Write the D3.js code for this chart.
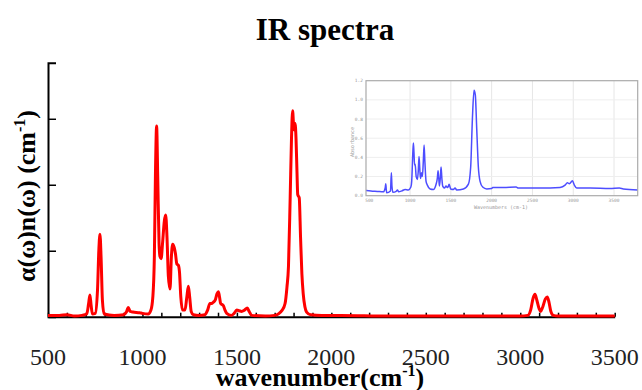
<!DOCTYPE html>
<html>
<head>
<meta charset="utf-8">
<script src="https://cdn.jsdelivr.net/npm/d3@7"></script>
<style>
  body { margin: 0; background: #fff; }
  svg { display: block; }
</style>
</head>
<body>
<div id="chart"></div>
<script>
// main spectrum (red), wavenumber in cm-1 and intensity in arbitrary units
const mainWn = [500, 560, 600, 640, 680, 705, 715, 722, 728, 735, 750, 762, 769, 775, 781, 788, 797, 850, 900, 915, 925, 935, 950, 985,
  1000, 1030, 1045, 1055, 1063, 1069, 1075, 1081, 1088, 1093, 1099, 1106, 1116, 1123, 1130, 1137, 1146, 1153, 1160, 1168, 1175, 1182,
  1190, 1196, 1203, 1212, 1225, 1235, 1243, 1250, 1258, 1270, 1300, 1330, 1345, 1357, 1368, 1375, 1385, 1395, 1402, 1408, 1414, 1428,
  1437, 1446, 1470, 1485, 1499, 1512, 1525, 1540, 1555, 1565, 1578, 1650, 1700, 1740, 1755, 1765, 1773, 1782, 1789, 1795, 1800, 1803,
  1808, 1813, 1818, 1822, 1830, 1837, 1844, 1851, 1860, 1869, 1890, 1950, 2050, 2300, 2600, 2900, 3000, 3040, 3055, 3068, 3078, 3088,
  3100, 3108, 3118, 3133, 3143, 3152, 3162, 3175, 3200, 3500];
const mainVal = [0.02, 0.02, 0.03, 0.01, 0.02, 0.04, 0.2, 0.33, 0.18, 0.04, 0.05, 0.4, 1.0, 1.25, 0.9, 0.25, 0.04, 0.02, 0.03, 0.07, 0.14, 0.08, 0.07, 0.06,
  0.05, 0.04, 0.1, 0.3, 0.9, 2.2, 2.89, 2.1, 1.1, 0.91, 0.88, 1.1, 1.45, 1.54, 1.2, 0.62, 0.42, 0.9, 1.1, 1.05, 0.95, 0.8,
  0.78, 0.68, 0.3, 0.1, 0.1, 0.3, 0.46, 0.3, 0.08, 0.03, 0.02, 0.03, 0.1, 0.2, 0.2, 0.22, 0.25, 0.35, 0.38, 0.3, 0.2, 0.17,
  0.1, 0.05, 0.02, 0.05, 0.1, 0.09, 0.08, 0.1, 0.13, 0.08, 0.02, 0.01, 0.02, 0.1, 0.2, 0.45, 0.76, 1.8, 2.7, 3.12, 2.9, 2.83,
  2.93, 2.7, 2.2, 1.85, 1.8, 1.2, 0.65, 0.35, 0.15, 0.07, 0.03, 0.02, 0.02, 0.01, 0.01, 0.01, 0.01, 0.02, 0.1, 0.28, 0.34, 0.25,
  0.12, 0.08, 0.14, 0.27, 0.3, 0.22, 0.08, 0.02, 0.01, 0.01];

// inset (measured absorbance, blue)
const insetWn = [460, 520, 600, 673, 695, 702, 708, 713, 760, 771, 778, 790, 830, 845, 860, 900, 939, 980, 1010, 1020, 1034, 1041, 1048,
  1055, 1061, 1066, 1075, 1090, 1100, 1110, 1118, 1127, 1133, 1139, 1145, 1151, 1162, 1172, 1182, 1196, 1212, 1245, 1286, 1319, 1334,
  1343, 1352, 1360, 1372, 1380, 1390, 1400, 1421, 1441, 1457, 1470, 1478, 1490, 1498, 1531, 1551, 1572, 1654, 1715, 1743, 1764, 1784,
  1800, 1817, 1837, 1858, 1890, 1940, 2000, 2013, 2144, 2300, 2327, 2510, 2716, 2838, 2900, 2928, 2953, 2990, 3014, 3042, 3206, 3451,
  3565, 3614, 3790];
const insetVal = [0.055, 0.05, 0.045, 0.04, 0.08, 0.125, 0.07, 0.03, 0.05, 0.24, 0.1, 0.035, 0.045, 0.06, 0.04, 0.05, 0.065, 0.06, 0.09, 0.15, 0.45, 0.55, 0.45,
  0.32, 0.33, 0.3, 0.2, 0.17, 0.25, 0.41, 0.3, 0.18, 0.2, 0.24, 0.22, 0.2, 0.35, 0.53, 0.35, 0.15, 0.11, 0.07, 0.065, 0.12, 0.18,
  0.26, 0.18, 0.1, 0.2, 0.3, 0.18, 0.1, 0.08, 0.1, 0.085, 0.1, 0.12, 0.09, 0.07, 0.065, 0.08, 0.06, 0.07, 0.12, 0.3, 0.8, 1.1,
  1.05, 0.7, 0.3, 0.15, 0.09, 0.07, 0.075, 0.085, 0.085, 0.09, 0.08, 0.08, 0.08, 0.085, 0.11, 0.135, 0.125, 0.155, 0.11, 0.08, 0.08, 0.075,
  0.08, 0.07, 0.06];

const xTickLabels = [500, 1000, 1500, 2000, 2500, 3000, 3500];
const yTicks = [0, 1, 2, 3];
const insetXTicks = [500, 1000, 1500, 2000, 2500, 3000, 3500];
const insetYTicks = [0, 0.2, 0.4, 0.6, 0.8, 1.0, 1.2];

const width = 642;
const height = 390;
const serif = "'Liberation Serif', 'Times New Roman', serif";

const svg = d3.select("#chart").append("svg")
  .attr("width", width)
  .attr("height", height);

const x = d3.scaleLinear().domain([500, 3500]).range([48, 614.7]);
const y = d3.scaleLinear().domain([0, 3.85]).range([316.7, 62.7]);

// title
svg.append("text")
  .attr("x", 325).attr("y", 40)
  .attr("text-anchor", "middle")
  .style("font-family", serif).style("font-weight", "bold").style("font-size", "31px")
  .text("IR spectra");

// x axis: small ticks pointing up every 100 cm-1
const xAxis = svg.append("g")
  .attr("transform", `translate(0,${y(0)})`)
  .call(d3.axisTop(x).tickValues(d3.range(500, 3501, 100)).tickSize(4).tickSizeOuter(0).tickFormat(""));
xAxis.select(".domain").attr("stroke", "#000").attr("stroke-width", 2);
xAxis.selectAll(".tick line").attr("stroke", "#000").attr("stroke-width", 1.5);

svg.append("g").selectAll("text")
  .data(xTickLabels)
  .enter().append("text")
  .attr("x", (d) => x(d))
  .attr("y", 365)
  .attr("text-anchor", "middle")
  .style("font-family", serif).style("font-size", "24px").attr("fill", "#222")
  .text((d) => d);

// y axis, no labels, ticks point inward
const yAxis = svg.append("g")
  .attr("transform", `translate(${x(500)},0)`)
  .call(d3.axisRight(y).tickValues(yTicks).tickSize(8).tickSizeOuter(8).tickFormat(""));
yAxis.select(".domain").attr("stroke", "#000").attr("stroke-width", 2);
yAxis.selectAll(".tick line").attr("stroke", "#000").attr("stroke-width", 1.5);

// axis titles
const xt = svg.append("text")
  .attr("x", 320).attr("y", 385.5)
  .attr("text-anchor", "middle")
  .style("font-family", serif).style("font-weight", "bold").style("font-size", "26px");
xt.append("tspan").text("wavenumber(cm");
xt.append("tspan").attr("dy", -10).style("font-size", "16px").text("-1");
xt.append("tspan").attr("dy", 10).text(")");

const yt = svg.append("text")
  .attr("transform", "translate(35,196) rotate(-90)")
  .attr("text-anchor", "middle")
  .style("font-family", serif).style("font-weight", "bold").style("font-size", "26px");
yt.append("tspan").text("\u03b1(\u03c9)n(\u03c9) (cm");
yt.append("tspan").attr("dy", -10).style("font-size", "16px").text("-1");
yt.append("tspan").attr("dy", 10).text(")");

// red spectrum
const mainData = mainWn.map((w, i) => ({ w, v: mainVal[i] }));
svg.append("path")
  .datum(mainData)
  .attr("fill", "none")
  .attr("stroke", "#ff0000")
  .attr("stroke-width", 3)
  .attr("stroke-linejoin", "round")
  .attr("d", d3.line().x((d) => x(d.w)).y((d) => y(d.v)).curve(d3.curveMonotoneX));

// inset plot
const ix = d3.scaleLinear().domain([460, 3790]).range([366, 637.7]);
const iy = d3.scaleLinear().domain([0, 1.2]).range([195.7, 80.7]);
const inset = svg.append("g");

inset.selectAll("line.vgrid")
  .data(insetXTicks.filter((d) => d > 500))
  .enter().append("line")
  .attr("x1", (d) => ix(d)).attr("x2", (d) => ix(d))
  .attr("y1", iy(1.2)).attr("y2", iy(0))
  .attr("stroke", "#e6e6e6").attr("stroke-width", 1);
inset.selectAll("line.hgrid")
  .data(insetYTicks.filter((d) => d > 0 && d < 1.2))
  .enter().append("line")
  .attr("x1", ix(460)).attr("x2", ix(3790))
  .attr("y1", (d) => iy(d)).attr("y2", (d) => iy(d))
  .attr("stroke", "#eeeeee").attr("stroke-width", 1);

const insetData = insetWn.map((w, i) => ({ w, v: insetVal[i] }));
inset.append("path")
  .datum(insetData)
  .attr("fill", "none")
  .attr("stroke", "#4d4dff")
  .attr("stroke-width", 1.5)
  .attr("stroke-linejoin", "round")
  .attr("d", d3.line().x((d) => ix(d.w)).y((d) => iy(d.v)).curve(d3.curveMonotoneX));

inset.append("rect")
  .attr("x", ix(460)).attr("y", iy(1.2))
  .attr("width", ix(3790) - ix(460)).attr("height", iy(0) - iy(1.2))
  .attr("fill", "none").attr("stroke", "#aaa").attr("stroke-width", 1.2);

const tiny = "'DejaVu Sans Mono', monospace";
inset.selectAll("text.ixl")
  .data(insetXTicks)
  .enter().append("text")
  .attr("x", (d) => ix(d)).attr("y", 202)
  .attr("text-anchor", "middle")
  .style("font-family", tiny).style("font-size", "4.5px").attr("fill", "#999")
  .text((d) => d);
inset.selectAll("text.iyl")
  .data(insetYTicks)
  .enter().append("text")
  .attr("x", 363).attr("y", (d) => iy(d) + 1.5)
  .attr("text-anchor", "end")
  .style("font-family", tiny).style("font-size", "4.5px").attr("fill", "#999")
  .text((d) => d.toFixed(1));
inset.append("text")
  .attr("x", 501).attr("y", 208.5)
  .attr("text-anchor", "middle")
  .style("font-family", tiny).style("font-size", "5px").attr("fill", "#999")
  .text("Wavenumbers (cm-1)");
inset.append("text")
  .attr("transform", "translate(354,142) rotate(-90)")
  .attr("text-anchor", "middle")
  .style("font-family", tiny).style("font-size", "5px").attr("fill", "#999")
  .text("Absorbance");
</script>
</body>
</html>
